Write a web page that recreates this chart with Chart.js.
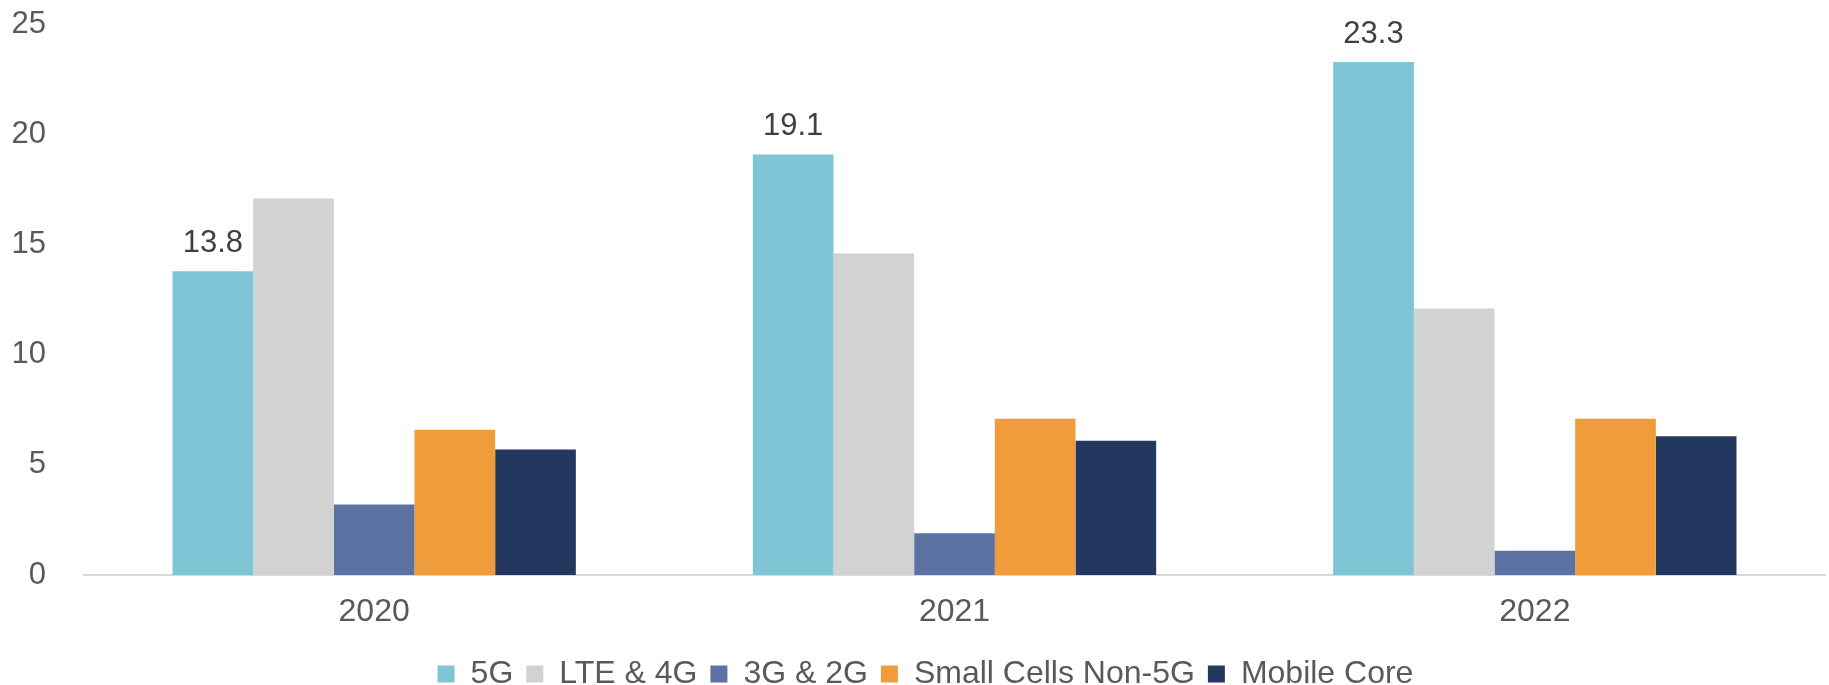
<!DOCTYPE html>
<html>
<head>
<meta charset="utf-8">
<script src="https://cdn.jsdelivr.net/npm/chart.js@4/dist/chart.umd.min.js"></script>
<style>
  html, body { margin: 0; padding: 0; background: #fff; }
  #wrap { width: 1829px; height: 685px; position: relative; }
</style>
</head>
<body>
<div id="wrap"><canvas id="marketChart"></canvas></div>
<script>
/* ==================== DATA ==================== */
const years       = ['2020', '2021', '2022'];
const seriesNames = ['5G', 'LTE & 4G', '3G & 2G', 'Small Cells Non-5G', 'Mobile Core'];
const val5G       = [13.8, 19.1, 23.3];
const valLTE      = [17.1, 14.6, 12.1];
const val3G       = [3.2, 1.9, 1.1];
const valSmall    = [6.6, 7.1, 7.1];
const valCore     = [5.7, 6.1, 6.3];
const yTicks      = [0, 5, 10, 15, 20, 25];

const colors = ['#7fc5d5', '#d2d2d2', '#5c72a3', '#f09c3b', '#24375e'];
const FONT = "'Liberation Sans', Arial, sans-serif";

// value labels only on the 5G series
const fiveGLabels = {
  id: 'fiveGLabels',
  afterDatasetsDraw(chart) {
    const ctx = chart.ctx;
    const meta = chart.getDatasetMeta(0);
    ctx.save();
    ctx.font = '31px ' + FONT;
    ctx.fillStyle = '#404040';
    ctx.textAlign = 'center';
    ctx.textBaseline = 'alphabetic';
    meta.data.forEach((bar, i) => {
      ctx.fillText(val5G[i].toFixed(1), bar.x, bar.y - 19);
    });
    ctx.restore();
  }
};

// pull the legend closer to the bottom edge and nudge it right a bit
const legendSqueeze = {
  id: 'legendSqueeze',
  beforeLayout(chart) {
    const lg = chart.legend;
    if (lg && !lg._squeezed) {
      const fit = lg.fit;
      lg.fit = function () { fit.call(this); this.height -= 17; };
      lg._squeezed = true;
    }
  },
  afterLayout(chart) {
    const lg = chart.legend;
    if (lg) { lg.left += 13; lg.right += 13; }
  }
};

const allValues = [val5G, valLTE, val3G, valSmall, valCore];

new Chart(document.getElementById('marketChart'), {
  type: 'bar',
  data: {
    labels: years,
    datasets: seriesNames.map((name, i) => ({
      label: name,
      data: allValues[i],
      backgroundColor: colors[i],
      borderWidth: 0,
      barPercentage: 1.0,
      categoryPercentage: 0.695
    }))
  },
  options: {
    responsive: true, maintainAspectRatio: false,
    animation: false,
    layout: { padding: { top: 24, right: 4, left: 0, bottom: 2 } },
    plugins: {
      legend: {
        position: 'bottom',
        labels: {
          font: { family: FONT, size: 32 },
          color: '#595959',
          boxWidth: 17, boxHeight: 17,
          padding: 13
        }
      },
      tooltip: { enabled: false }
    },
    scales: {
      x: {
        grid: { display: false },
        border: { display: true, color: '#d9d9d9', width: 2 },
        ticks: { font: { family: FONT, size: 32 }, color: '#595959', padding: 10 },
        afterFit: (scale) => { scale.height = 70; }
      },
      y: {
        min: 0, max: 25,
        afterBuildTicks: (scale) => { scale.ticks = yTicks.map(v => ({ value: v })); },
        afterFit: (scale) => { scale.width = 84; },
        grid: { display: false, tickLength: 32 },
        border: { display: false },
        ticks: { font: { family: FONT, size: 31 }, color: '#595959', padding: 6 }
      }
    }
  },
  plugins: [fiveGLabels, legendSqueeze]
});
</script>
</body>
</html>
